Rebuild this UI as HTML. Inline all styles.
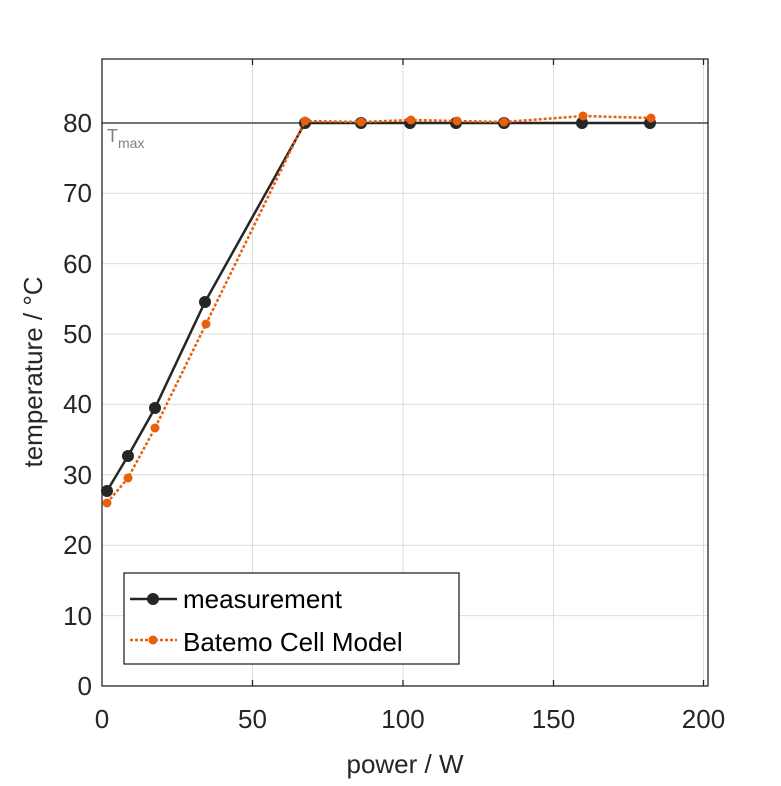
<!DOCTYPE html><html><head><style>body{margin:0;background:#fff}svg{font-family:"Liberation Sans",sans-serif}</style></head><body>
<svg width="781" height="781" viewBox="0 0 781 781" xmlns="http://www.w3.org/2000/svg">
<rect width="781" height="781" fill="#fff"/>
<g stroke="#dcdcdc" stroke-width="1">
<line x1="252.5" y1="59" x2="252.5" y2="686"/><line x1="403" y1="59" x2="403" y2="686"/><line x1="553.5" y1="59" x2="553.5" y2="686"/><line x1="703.5" y1="59" x2="703.5" y2="686"/>
<line x1="102" y1="615.6" x2="708" y2="615.6"/><line x1="102" y1="545.2" x2="708" y2="545.2"/><line x1="102" y1="474.8" x2="708" y2="474.8"/><line x1="102" y1="404.4" x2="708" y2="404.4"/><line x1="102" y1="334" x2="708" y2="334"/><line x1="102" y1="263.6" x2="708" y2="263.6"/><line x1="102" y1="193.2" x2="708" y2="193.2"/>
</g>
<line x1="102" y1="123" x2="708" y2="123" stroke="#737373" stroke-width="2"/>
<text x="107" y="142" font-size="18" fill="#808080">T<tspan font-size="14" dy="6">max</tspan></text>
<rect x="102" y="59" width="606" height="627" fill="none" stroke="#262626" stroke-width="1.3"/>
<g stroke="#262626" stroke-width="1.3">
<line x1="252.5" y1="686" x2="252.5" y2="680"/><line x1="403" y1="686" x2="403" y2="680"/><line x1="553.5" y1="686" x2="553.5" y2="680"/><line x1="703.5" y1="686" x2="703.5" y2="680"/>
<line x1="252.5" y1="59" x2="252.5" y2="65"/><line x1="403" y1="59" x2="403" y2="65"/><line x1="553.5" y1="59" x2="553.5" y2="65"/><line x1="703.5" y1="59" x2="703.5" y2="65"/>
</g>
<g font-size="26" fill="#262626" text-anchor="end">
<text x="92" y="695">0</text><text x="92" y="625">10</text><text x="92" y="554">20</text><text x="92" y="484">30</text><text x="92" y="413">40</text><text x="92" y="343">50</text><text x="92" y="273">60</text><text x="92" y="202">70</text><text x="92" y="132">80</text>
</g>
<g font-size="26" fill="#262626" text-anchor="middle">
<text x="102" y="728">0</text><text x="252.5" y="728">50</text><text x="403" y="728">100</text><text x="553.5" y="728">150</text><text x="703.5" y="728">200</text>
<text x="405" y="773">power / W</text>
<text transform="translate(42,372) rotate(-90)">temperature / °C</text>
</g>
<polyline fill="none" stroke="#262626" stroke-width="2.5" points="107,491 128,456 155,408 205,302 305,123 361,123 410,123 456,123 504,123 582,123 650,123"/>
<g fill="#262626"><circle cx="107" cy="491" r="6"/><circle cx="128" cy="456" r="6"/><circle cx="155" cy="408" r="6"/><circle cx="205" cy="302" r="6"/><circle cx="305" cy="123" r="6"/><circle cx="361" cy="123" r="6"/><circle cx="410" cy="123" r="6"/><circle cx="456" cy="123" r="6"/><circle cx="504" cy="123" r="6"/><circle cx="582" cy="123" r="6"/><circle cx="650" cy="123" r="6"/></g>
<polyline fill="none" stroke="#e8600f" stroke-width="2.5" stroke-dasharray="3,2" points="107,503 128,478 155,428 206,324 305,121 361,122 411,120 457,121 504,122 583,116 651,118"/>
<g fill="#e8600f"><circle cx="107" cy="503" r="4.5"/><circle cx="128" cy="478" r="4.5"/><circle cx="155" cy="428" r="4.5"/><circle cx="206" cy="324" r="4.5"/><circle cx="305" cy="121" r="4.5"/><circle cx="361" cy="122" r="4.5"/><circle cx="411" cy="120" r="4.5"/><circle cx="457" cy="121" r="4.5"/><circle cx="504" cy="122" r="4.5"/><circle cx="583" cy="116" r="4.5"/><circle cx="651" cy="118" r="4.5"/></g>
<rect x="124" y="573" width="335" height="91" fill="#fff" stroke="#262626" stroke-width="1.3"/>
<line x1="130" y1="599" x2="177" y2="599" stroke="#262626" stroke-width="2.5"/><circle cx="153" cy="599" r="6" fill="#262626"/>
<line x1="130" y1="640" x2="177" y2="640" stroke="#e8600f" stroke-width="2.5" stroke-dasharray="3,2"/><circle cx="153" cy="640" r="4.5" fill="#e8600f"/>
<g font-size="26" fill="#000"><text x="183" y="608">measurement</text><text x="183" y="651">Batemo Cell Model</text></g>
</svg>
</body></html>
